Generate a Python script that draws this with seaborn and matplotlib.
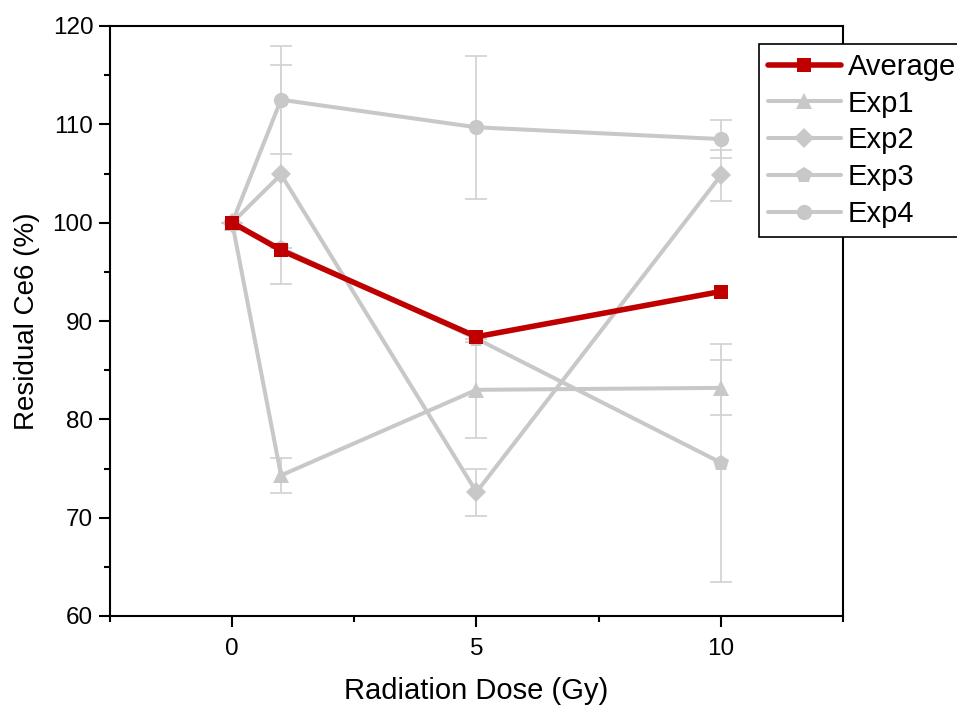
import matplotlib
matplotlib.use("Agg")
import matplotlib.pyplot as plt
import seaborn as sns
import numpy as np
import pandas as pd
from matplotlib.ticker import MultipleLocator, FixedLocator

# ---- data ----
dose = [0, 1, 5, 10]
average = [100.0, 97.2, 88.4, 93.0]
exp1 = [100.0, 74.3, 83.0, 83.2]
exp2 = [100.0, 104.9, 72.6, 104.8]
exp3 = [100.0, 97.4, 88.2, 75.6]
exp4 = [100.0, 112.5, 109.7, 108.5]
exp1_err = [0.0, 1.8, 4.9, 2.8]
exp2_err = [0.0, 11.1, 2.4, 2.6]
exp3_err = [0.0, 0.0, 0.0, 12.1]
exp4_err = [0.0, 5.5, 7.3, 1.9]

series_names = ["Exp1", "Exp2", "Exp3", "Exp4"]
series_vals = [exp1, exp2, exp3, exp4]
series_errs = [exp1_err, exp2_err, exp3_err, exp4_err]
series_markers = ["^", "D", "p", "o"]
series_msize = [12, 10, 12, 11]

sns.set_theme(style="ticks")
plt.rcParams["font.family"] = ["Liberation Sans", "DejaVu Sans"]

fig = plt.figure(figsize=(9.57, 7.07), dpi=100)
ax = fig.add_axes([110 / 957, 1 - 616 / 707, (843 - 110) / 957, (616 - 26) / 707])

grey = "#c8c8c8"
errgrey = "#d4d4d4"
red = "#c00000"

handles = {}
for name, vals, errs, mk, ms in zip(series_names, series_vals, series_errs, series_markers, series_msize):
    ax.errorbar(dose, vals, yerr=errs, fmt="none", ecolor=errgrey, elinewidth=1.3,
                capsize=8, capthick=1.3, zorder=1)
    df = pd.DataFrame({"dose": dose, "val": vals})
    sns.lineplot(data=df, x="dose", y="val", ax=ax, color=grey, linewidth=2.9,
                 marker=mk, markersize=ms, markeredgewidth=0, label=name, zorder=2)
    handles[name] = ax.get_lines()[-1]

dfa = pd.DataFrame({"dose": dose, "val": average})
sns.lineplot(data=dfa, x="dose", y="val", ax=ax, color=red, linewidth=4.0,
             marker="s", markersize=10.5, markeredgewidth=0, label="Average", zorder=3)
handles["Average"] = ax.get_lines()[-1]
if ax.get_legend() is not None:
    ax.get_legend().remove()

ax.set_xlim(-2.5, 12.5)
ax.set_ylim(60, 120)
ax.xaxis.set_major_locator(FixedLocator([0, 5, 10]))
ax.xaxis.set_minor_locator(FixedLocator([-2.5, 2.5, 7.5, 12.5]))
ax.yaxis.set_major_locator(MultipleLocator(10))
ax.yaxis.set_minor_locator(MultipleLocator(5))

for s in ax.spines.values():
    s.set_visible(True)
    s.set_linewidth(1.5)
    s.set_color("black")

ax.tick_params(axis="both", which="major", direction="out", length=8, width=1.5,
               color="black", labelcolor="black", pad=4)
ax.tick_params(axis="x", which="major", pad=8)
ax.tick_params(axis="both", which="minor", direction="out", length=4.5, width=1.5, color="black")
ax.tick_params(top=False, right=False, which="both")
for lab in ax.get_xticklabels() + ax.get_yticklabels():
    lab.set_fontsize(17.5)
    lab.set_color("black")

ax.set_xlabel("Radiation Dose (Gy)", fontsize=21, labelpad=12, color="black")
ax.set_ylabel("Residual Ce6 (%)", fontsize=20, labelpad=9, color="black")

order = ["Average", "Exp1", "Exp2", "Exp3", "Exp4"]
leg = fig.legend([handles[n] for n in order], order,
                 loc="upper left", bbox_to_anchor=(759 / 957, 1 - 44 / 707),
                 frameon=True, fancybox=False, fontsize=21, handlelength=2.5,
                 handletextpad=0.25, borderpad=0.3, labelspacing=0.3,
                 borderaxespad=0)
for t in leg.get_texts():
    t.set_color("black")
leg.get_frame().set_edgecolor("black")
leg.get_frame().set_linewidth(1.2)
leg.get_frame().set_facecolor("white")
leg.get_frame().set_alpha(1)

fig.savefig("out.png", dpi=100)
